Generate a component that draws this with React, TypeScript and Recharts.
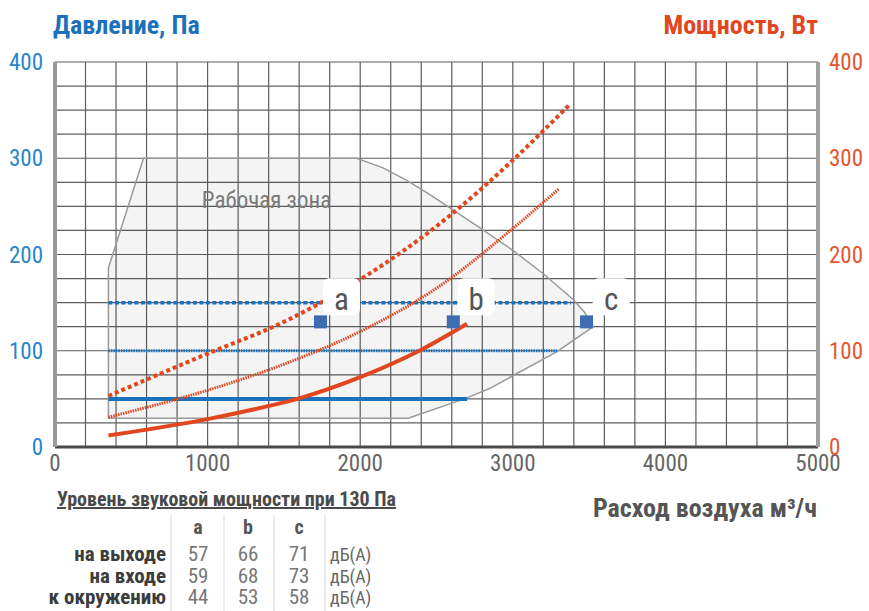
import React from "react";
import {
  ComposedChart,
  Line,
  Scatter,
  XAxis,
  YAxis,
  CartesianGrid,
} from "recharts";

/* ── palette ── */
const C = {
  blue: "#1b71bb",
  blueTick: "#2a86c8",
  red: "#e2461f",
  redTick: "#e45530",
  grid: "#5e5e5e",
  gray: "#666",
  dark: "#444",
  square: "#3d6cb3",
};

const FONT = "'Liberation Sans Narrow', 'Roboto Condensed', 'DejaVu Sans Condensed', Roboto, sans-serif";

/* ── data ── */
const xTicks = [0, 1000, 2000, 3000, 4000, 5000];
const yTicks = [0, 100, 200, 300, 400];
const gridX = [
  0, 200, 400, 600, 800, 1000, 1200, 1400, 1600, 1800, 2000, 2200, 2400, 2600,
  2800, 3000, 3200, 3400, 3600, 3800, 4000, 4200, 4400, 4600, 4800, 5000,
];
const gridY = [
  0, 25, 50, 75, 100, 125, 150, 175, 200, 225, 250, 275, 300, 325, 350, 375, 400,
];

// рабочая зона (контур)
const zone = [
  { x: 350, y: 186 },
  { x: 580, y: 300 },
  { x: 1977, y: 300 },
  { x: 2150, y: 290 },
  { x: 2305, y: 277 },
  { x: 2460, y: 262 },
  { x: 2610, y: 246 },
  { x: 2800, y: 226 },
  { x: 3003, y: 204 },
  { x: 3200, y: 180 },
  { x: 3397, y: 153 },
  { x: 3470, y: 140 },
  { x: 3527, y: 125 },
  { x: 3290, y: 99 },
  { x: 3000, y: 74 },
  { x: 2851, y: 61 },
  { x: 2700, y: 51 },
  { x: 2315, y: 30 },
  { x: 350, y: 30 },
  { x: 350, y: 186 },
];
const zoneLabel = [{ x: 1386, y: 248, name: "Рабочая зона" }];

// давление, Па
const pressA = [{ x: 350, y: 50 }, { x: 2700, y: 50 }];
const pressB = [{ x: 350, y: 100 }, { x: 3290, y: 100 }];
const pressC = [{ x: 350, y: 150 }, { x: 3380, y: 150 }];

// мощность, Вт
const powerA = [
  { x: 350, y: 12 }, { x: 1000, y: 29 }, { x: 1300, y: 39 }, { x: 1600, y: 50.5 },
  { x: 2000, y: 72.5 }, { x: 2400, y: 101 }, { x: 2700, y: 128 },
];
const powerB = [
  { x: 350, y: 31 }, { x: 1000, y: 59 }, { x: 1500, y: 86 }, { x: 2000, y: 120 },
  { x: 2500, y: 165 }, { x: 3000, y: 227 }, { x: 3300, y: 268 },
];
const powerC = [
  { x: 350, y: 53 }, { x: 1000, y: 97 }, { x: 1500, y: 130 }, { x: 2000, y: 174 },
  { x: 2600, y: 242 }, { x: 3000, y: 298 }, { x: 3380, y: 357 },
];

// рабочие точки при 130 Па
const points = [{ x: 1740, y: 130 }, { x: 2610, y: 130 }, { x: 3483, y: 130 }];
const pointLabels = [
  { x: 1877, y: 156, name: "a" },
  { x: 2760, y: 156, name: "b" },
  { x: 3645, y: 156, name: "c" },
];

// таблица уровня звуковой мощности
const tableCols = ["a", "b", "c"];
const tableRows = ["на выходе", "на входе", "к окружению"];
const tableVals = [
  [57, 66, 71],
  [59, 68, 73],
  [44, 53, 58],
];
const tableUnit = "дБ(А)";

/* ── shapes ── */
const Nothing = () => <g />;

const Square = (p: any) => (
  <rect x={p.cx - 6.5} y={p.cy - 6.5} width={13} height={13} fill={C.square} />
);

const LabelBox = (p: any) => (
  <g>
    <rect x={p.cx - 18.5} y={p.cy - 18.5} width={37} height={37} rx={6} fill="#fff" />
    <text x={p.cx} y={p.cy + 13} textAnchor="middle" fontSize={31} fill="#555" fontFamily={FONT}>
      {p.payload.name}
    </text>
  </g>
);

const ZoneText = (p: any) => (
  <text x={p.cx} y={p.cy} textAnchor="middle" fontSize={23} fill="#7a7a7a" fontFamily={FONT}>
    {p.payload.name}
  </text>
);

/* ── APP ── */
export default function App() {
  const colX = [198, 248, 299];
  const rowY = [561, 583, 604];

  return (
    <div style={{ position: "absolute", left: 0, top: 0, width: 869, height: 611, background: "#fff", fontFamily: FONT }}>
      <ComposedChart width={869} height={480} margin={{ top: 62, right: 0, left: 0, bottom: 0 }}>
        <CartesianGrid
          yAxisId="p"
          stroke={C.grid}
          strokeWidth={1.2}
          horizontalValues={gridY}
          verticalValues={gridX}
        />
        <XAxis
          type="number"
          dataKey="x"
          domain={[0, 5000]}
          ticks={xTicks}
          height={33}
          tickSize={0}
          tickMargin={8}
          axisLine={{ stroke: "#4a4a4a", strokeWidth: 3 }}
          tick={{ fill: C.gray, fontSize: 23, fontFamily: FONT }}
          interval={0}
        />
        <YAxis
          yAxisId="p"
          dataKey="y"
          type="number"
          domain={[0, 400]}
          ticks={yTicks}
          width={55}
          tickSize={0}
          tickMargin={12}
          axisLine={{ stroke: "#9a9a9a", strokeWidth: 4 }}
          tick={{ fill: C.blueTick, fontSize: 23, fontFamily: FONT }}
          interval={0}
        />
        <YAxis
          yAxisId="w"
          orientation="right"
          dataKey="y"
          type="number"
          domain={[0, 400]}
          ticks={yTicks}
          width={51}
          tickSize={0}
          tickMargin={11}
          axisLine={{ stroke: "#a0a0a0", strokeWidth: 4 }}
          tick={{ fill: C.redTick, fontSize: 23, fontFamily: FONT, textAnchor: "start" }}
          interval={0}
        />

        <Scatter
          yAxisId="p"
          data={zone}
          shape={Nothing}
          line={{ fill: "rgba(0,0,0,0.045)", stroke: "#9a9a9a", strokeWidth: 1.5 }}
          lineJointType="linear"
          isAnimationActive={false}
          zIndex={50}
        />

        <Line yAxisId="p" data={pressA} dataKey="y" stroke={C.blue} strokeWidth={4} dot={false} activeDot={false} isAnimationActive={false} />
        <Line yAxisId="p" data={pressB} dataKey="y" stroke={C.blue} strokeWidth={3} strokeDasharray="1.5 1" dot={false} activeDot={false} isAnimationActive={false} />
        <Line yAxisId="p" data={pressC} dataKey="y" stroke={C.blue} strokeWidth={3.5} strokeDasharray="4 2.5" dot={false} activeDot={false} isAnimationActive={false} />

        <Line yAxisId="w" type="monotone" data={powerA} dataKey="y" stroke={C.red} strokeWidth={4} dot={false} activeDot={false} isAnimationActive={false} />
        <Line yAxisId="w" type="monotone" data={powerB} dataKey="y" stroke={C.red} strokeWidth={3} strokeDasharray="1.5 1" dot={false} activeDot={false} isAnimationActive={false} />
        <Line yAxisId="w" type="monotone" data={powerC} dataKey="y" stroke={C.red} strokeWidth={4} strokeDasharray="4 3" dot={false} activeDot={false} isAnimationActive={false} />

        <Scatter yAxisId="p" data={zoneLabel} shape={ZoneText} isAnimationActive={false} />
        <Scatter yAxisId="p" data={points} shape={Square} isAnimationActive={false} />
        <Scatter yAxisId="p" data={pointLabels} shape={LabelBox} isAnimationActive={false} />
      </ComposedChart>

      <svg width={869} height={611} style={{ position: "absolute", left: 0, top: 0, pointerEvents: "none" }}>
        <text x={53} y={34} fontSize={26} fontWeight="bold" fill={C.blue} fontFamily={FONT}>
          Давление, Па
        </text>
        <text x={818} y={34} textAnchor="end" fontSize={26} fontWeight="bold" fill={C.red} fontFamily={FONT}>
          Мощность, Вт
        </text>
        <text x={817} y={517} textAnchor="end" fontSize={26} fontWeight="bold" fill="#555" fontFamily={FONT}>
          Расход воздуха м³/ч
        </text>

        <text x={57} y={506} fontSize={20} fontWeight="bold" fill="#4a4a4a" textDecoration="underline" fontFamily={FONT}>
          Уровень звуковой мощности при 130 Па
        </text>
        {[171, 224, 274, 325].map((x) => (
          <line key={x} x1={x} x2={x} y1={515} y2={611} stroke="#e4e4e4" strokeWidth={1.5} />
        ))}
        {tableCols.map((c, i) => (
          <text key={c} x={colX[i]} y={534} textAnchor="middle" fontSize={20} fontWeight="bold" fill="#555" fontFamily={FONT}>
            {c}
          </text>
        ))}
        {tableRows.map((r, j) => (
          <g key={r}>
            <text x={166} y={rowY[j]} textAnchor="end" fontSize={21} fontWeight="bold" fill="#3c3c3c" fontFamily={FONT}>
              {r}
            </text>
            {tableVals[j].map((v, i) => (
              <text key={i} x={colX[i]} y={rowY[j]} textAnchor="middle" fontSize={21} fill="#777" fontFamily={FONT}>
                {v}
              </text>
            ))}
            <text x={330} y={rowY[j]} fontSize={18} fill="#666" fontFamily={FONT}>
              {tableUnit}
            </text>
          </g>
        ))}
      </svg>
    </div>
  );
}
